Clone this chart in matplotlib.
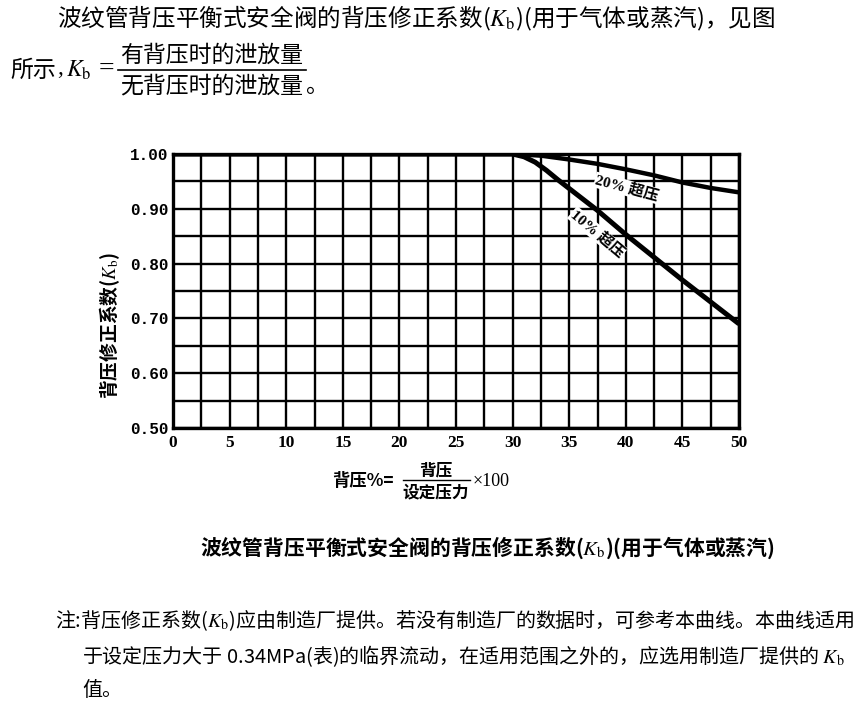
import numpy as np
import matplotlib
matplotlib.use("Agg")
import matplotlib.pyplot as plt
from matplotlib.lines import Line2D

plt.rcParams['font.family'] = ['Noto Sans CJK SC', 'DejaVu Sans']
plt.rcParams['mathtext.fontset'] = 'stix'

# Data: back pressure % vs correction factor Kb
x_20 = [0, 30, 32.5, 35, 37.5, 40, 42.5, 45, 47.5, 50]
kb_20 = [1.0, 1.0, 0.997, 0.99, 0.982, 0.972, 0.961, 0.948, 0.938, 0.930]
x_10 = [0, 30, 31, 32, 33, 34, 35, 37.5, 40, 45, 50]
kb_10 = [1.0, 1.0, 0.995, 0.985, 0.97, 0.953, 0.937, 0.897, 0.853, 0.77, 0.69]

x_ticks = [0, 5, 10, 15, 20, 25, 30, 35, 40, 45, 50]
y_ticks = [0.50, 0.60, 0.70, 0.80, 0.90, 1.00]
y_tick_labels = ["0.50", "0.60", "0.70", "0.80", "0.90", "1.00"]

W, H = 865, 712
fig = plt.figure(figsize=(W / 100, H / 100), dpi=100)


def px(x, y):
    return x / W, 1 - y / H


def hline(x0, x1, y, lw=1.0):
    fig.add_artist(Line2D([x0 / W, x1 / W], [1 - y / H, 1 - y / H], color='black', lw=lw))


ax = fig.add_axes([173 / W, 1 - 428 / H, 566 / W, 274 / H])
ax.set_xlim(0, 50)
ax.set_ylim(0.5, 1.0)
ax.set_xticks(x_ticks)
ax.set_xticks(np.arange(0, 50.1, 2.5), minor=True)
ax.set_yticks(y_ticks)
ax.set_yticks(np.arange(0.5, 1.001, 0.05), minor=True)
ax.set_xticklabels([str(v) for v in x_ticks], family='Liberation Serif', fontsize=12.5,
                   fontweight='bold')
ax.set_yticklabels(y_tick_labels, family='Liberation Mono', fontsize=11.5, fontweight='bold')
ax.tick_params(which='both', length=0, pad=3)
ax.tick_params(axis='x', pad=5)
ax.grid(which='both', color='black', lw=1.7)
for s in ax.spines.values():
    s.set_linewidth(2.4)

ax.plot(x_20, kb_20, color='black', lw=3.2, solid_capstyle='butt')
ax.plot(x_10, kb_10, color='black', lw=3.6, solid_capstyle='butt')

ax.text(40.1, 0.938, "20% 超压", rotation=-15, ha='center', va='center', fontsize=11,
        fontweight='bold', family=['Liberation Serif', 'Noto Sans CJK SC'],
        bbox=dict(fc='white', ec='none', pad=0.5))
ax.text(37.5, 0.855, "10% 超压", rotation=-40, ha='center', va='center', fontsize=11,
        fontweight='bold', family=['Liberation Serif', 'Noto Sans CJK SC'],
        bbox=dict(fc='white', ec='none', pad=0.5))

# y label
fig.text(*px(110, 325), r"背压修正系数($K_\mathrm{b}$)", rotation=90, ha='center', va='center',
         fontsize=13.5, fontweight='bold')

# x label
fig.text(*px(332, 481), "背压%=", ha='left', va='center', fontsize=12.5, fontweight='bold')
fig.text(*px(436, 470), "背压", ha='center', va='center', fontsize=12, fontweight='bold')
fig.text(*px(436, 492), "设定压力", ha='center', va='center', fontsize=12, fontweight='bold')
hline(403, 470, 480)
fig.text(*px(473, 481), "×100", ha='left', va='center', fontsize=13, family='Liberation Serif')

# top paragraph
fig.text(*px(57, 18), r"波纹管背压平衡式安全阀的背压修正系数($K_\mathrm{b}$)(用于气体或蒸汽)，见图",
         ha='left', va='center', fontsize=17)
fig.text(*px(10, 70), "所示", ha='left', va='center', fontsize=16.5)
fig.text(*px(57, 69), ",", ha='left', va='center', fontsize=17, family='Liberation Serif')
fig.text(*px(66, 70), r"$K_\mathrm{b}$", ha='left', va='center', fontsize=17)
fig.text(*px(106, 69), "=", ha='center', va='center', fontsize=20, family='Liberation Serif')
fig.text(*px(212, 55), "有背压时的泄放量", ha='center', va='center', fontsize=16.5)
fig.text(*px(212, 86), "无背压时的泄放量", ha='center', va='center', fontsize=16.5)
fig.text(*px(305, 86), "。", ha='left', va='center', fontsize=16.5)
hline(118, 306, 70, lw=1.2)

# caption
fig.text(*px(775, 548), r"波纹管背压平衡式安全阀的背压修正系数($K_\mathrm{b}$)(用于气体或蒸汽)",
         ha='right', va='center', fontsize=15, fontweight='bold')

# note
fig.text(*px(55, 621), r"注:背压修正系数($K_\mathrm{b}$)应由制造厂提供。若没有制造厂的数据时，可参考本曲线。本曲线适用",
         ha='left', va='center', fontsize=14.4)
fig.text(*px(82, 656), r"于设定压力大于 0.34MPa(表)的临界流动，在适用范围之外的，应选用制造厂提供的 $K_\mathrm{b}$",
         ha='left', va='center', fontsize=14.4)
fig.text(*px(82, 690), "值。", ha='left', va='center', fontsize=14.4)

fig.savefig("out.png", dpi=100)
